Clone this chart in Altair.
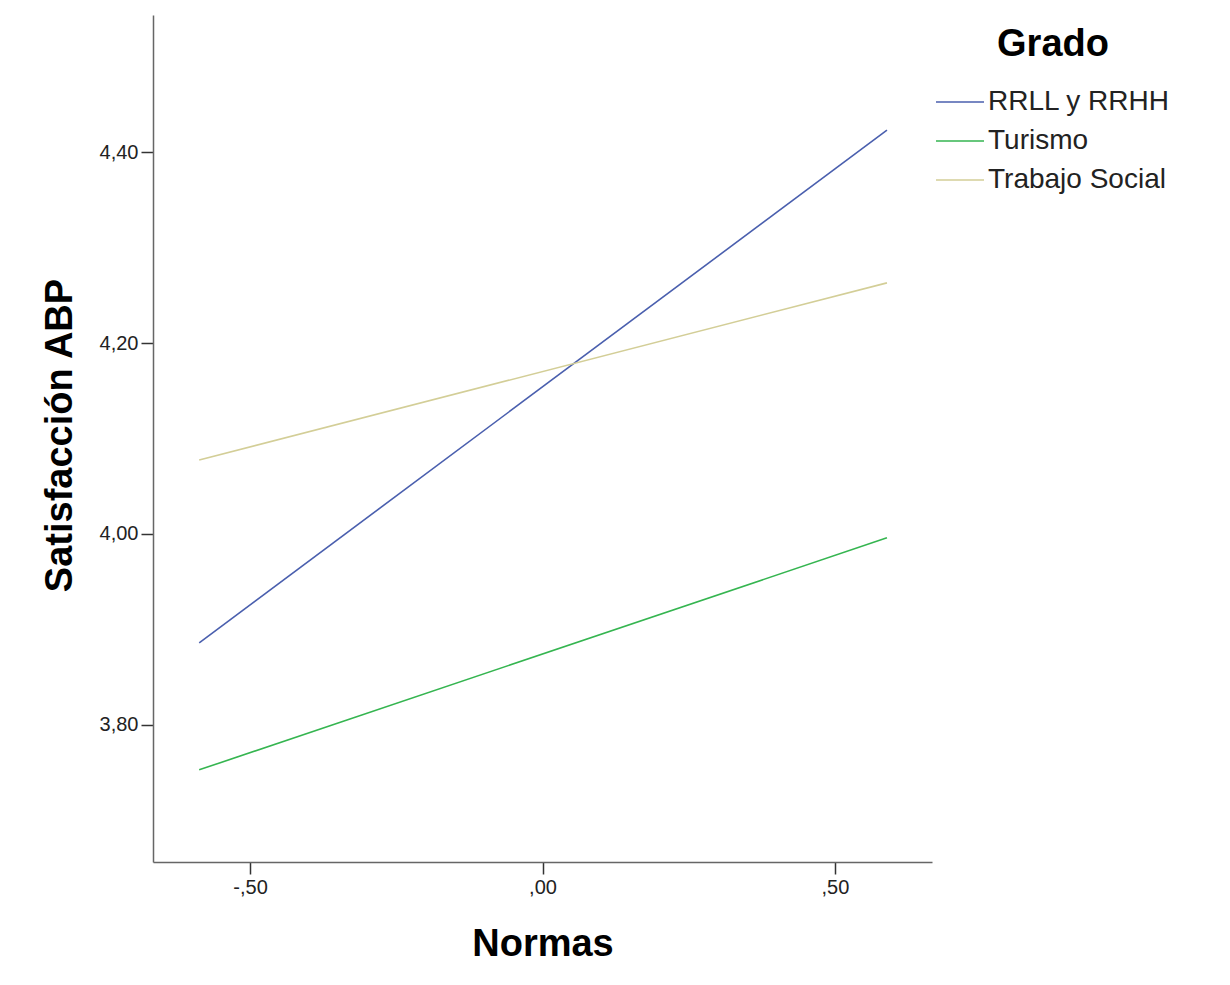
import altair as alt
import pandas as pd

groups = ["RRLL y RRHH", "Turismo", "Trabajo Social"]
x_points = [-0.587, 0.589]
rrll = [3.886, 4.423]
turismo = [3.753, 3.996]
trabajo = [4.0775, 4.263]
colors = ["#4A5FAE", "#35B550", "#D3CE97"]

rows = []
for g, vals in zip(groups, [rrll, turismo, trabajo]):
    for xv, yv in zip(x_points, vals):
        rows.append({"Normas": xv, "Satisfacción ABP": yv, "Grado": g})
df = pd.DataFrame(rows)

FONT = "Liberation Sans"

chart = alt.Chart(df).mark_line(strokeWidth=1.6).encode(
    x=alt.X("Normas:Q",
            scale=alt.Scale(domain=[-0.666, 0.666], nice=False, zero=False),
            axis=alt.Axis(values=[-0.5, 0, 0.5], grid=False,
                          labelExpr="replace(replace(replace(format(datum.value, '.2f'), '0.', '.'), '.', ','), '\u2212', '-')",
                          title="Normas", titleY=93, titleBaseline="alphabetic")),
    y=alt.Y("Satisfacción ABP:Q",
            scale=alt.Scale(domain=[3.6565, 4.5435], nice=False, zero=False),
            axis=alt.Axis(values=[3.8, 4.0, 4.2, 4.4], grid=False,
                          labelExpr="replace(format(datum.value, '.2f'), '.', ',')",
                          title="Satisfacción ABP", titleX=-82, titleY=420, titleAngle=270,
                          titleBaseline="alphabetic")),
    color=alt.Color("Grado:N",
                    scale=alt.Scale(domain=groups, range=colors),
                    legend=alt.Legend(orient="none", legendX=782, legendY=11,
                                      symbolType="stroke", symbolSize=2304,
                                      symbolStrokeWidth=1.6, titleAnchor="middle",
                                      titleFontSize=38, titleFont=FONT, titleFontWeight="bold",
                                      titleColor="#000", titlePadding=13,
                                      labelFontSize=28, labelFont=FONT, labelColor="#222",
                                      labelLimit=400, labelOffset=3, rowPadding=-20)),
).properties(
    width=779, height=847,
    autosize=alt.AutoSizeParams(type="none"),
    padding={"left": 145, "top": 7, "right": 285, "bottom": 110},
    background="white",
).configure_axis(
    domainColor="#666", domainWidth=1.5, tickColor="#333", tickWidth=1.5,
    tickSize=12, labelPadding=3, labelFont=FONT, labelFontSize=20, labelColor="#222",
    titleFont=FONT, titleFontSize=38, titleFontWeight="bold", titleColor="#000",
).configure_view(stroke=None)

chart.save("out.html", embed_options={"renderer": "svg", "actions": False})
